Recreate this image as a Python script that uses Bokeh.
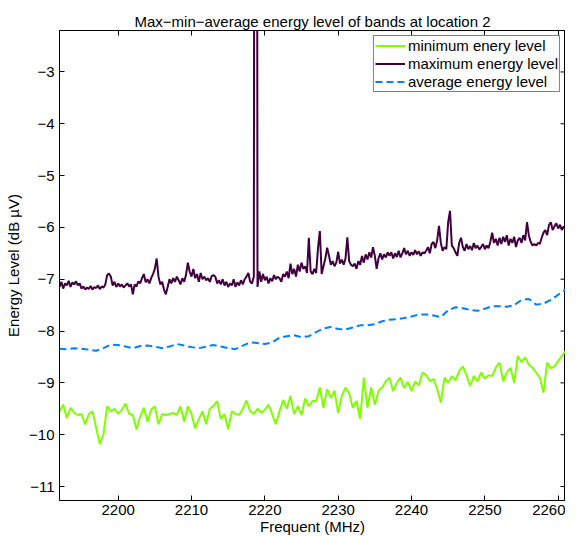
import numpy as np
from bokeh.plotting import figure
from bokeh.models import LinearAxis, FixedTicker, Legend, LegendItem, Range1d
from bokeh.embed import file_html
from bokeh.resources import INLINE

# ---- data ----
freq_start = 2192.0
freq_end = 2261.0

# maximum energy level, 0.25 MHz step
max_level = [
    -7.15, -7.05, -7.18, -7.08, -7.12, -7.03, -7.15, -7.06, -7.10, -7.04, -7.12, -7.08, -7.18, -7.14, -7.20, -7.16, -7.19, -7.13, -7.20, -7.15,
    -7.17, -7.12, -7.19, -7.14, -7.16, -7.10, -6.92, -6.89, -6.95, -7.12, -7.05, -7.15, -7.08, -7.14, -7.10, -7.16, -7.12, -7.08, -7.14, -7.10,
    -7.29, -7.10, -7.14, -7.04, -7.08, -6.98, -6.90, -7.06, -7.00, -7.08, -6.98, -6.90, -6.80, -6.60, -6.95, -7.10, -7.05, -7.20, -7.29, -7.15,
    -7.00, -7.08, -6.98, -7.05, -6.95, -7.02, -7.10, -6.98, -7.05, -6.92, -6.68, -6.85, -6.95, -6.80, -6.98, -6.90, -7.05, -6.88, -7.00, -6.95,
    -7.02, -6.98, -7.05, -6.94, -6.92, -6.95, -7.08, -7.02, -7.10, -7.00, -7.12, -7.05, -7.15, -7.08, -7.12, -7.00, -7.15, -7.06, -7.12, -7.02,
    -7.10, -7.00, -6.95, -6.88, -7.05, -7.08, -6.95, 30.00, -7.15, -6.85, -7.05, -6.90, -7.02, -6.95, -7.08, -6.98, -7.04, -6.92, -7.00, -6.95,
    -6.98, -7.05, -6.90, -6.95, -6.85, -6.98, -6.70, -6.90, -6.80, -6.95, -6.72, -6.85, -6.68, -6.80, -6.75, -6.88, -6.20, -6.85, -6.90, -6.80,
    -6.88, -6.40, -6.07, -6.90, -6.75, -6.60, -6.39, -6.55, -6.72, -6.65, -6.75, -6.68, -6.47, -6.70, -6.62, -6.72, -6.60, -6.19, -6.65, -6.72,
    -6.75, -6.70, -6.80, -6.65, -6.72, -6.55, -6.68, -6.52, -6.62, -6.48, -6.58, -6.38, -6.55, -6.80, -6.60, -6.50, -6.62, -6.52, -6.58, -6.48,
    -6.55, -6.48, -6.60, -6.50, -6.57, -6.45, -6.58, -6.50, -6.40, -6.52, -6.45, -6.55, -6.48, -6.53, -6.44, -6.52, -6.46, -6.55, -6.48, -6.50,
    -6.45, -6.38, -6.50, -6.32, -6.28, -6.40, -6.25, -5.97, -6.30, -6.45, -6.38, -6.42, -5.90, -5.68, -6.35, -6.40, -6.48, -6.55, -6.30, -6.20,
    -6.38, -6.45, -6.32, -6.42, -6.36, -6.44, -6.30, -6.40, -6.35, -6.43, -6.38, -6.32, -6.42, -6.35, -6.40, -6.28, -6.10, -6.30, -6.22, -6.35,
    -6.20, -6.32, -6.18, -6.28, -6.15, -6.35, -6.22, -6.30, -6.18, -6.38, -6.25, -6.20, -6.30, -6.15, -6.25, -5.90, -6.15, -6.28, -6.35, -6.32,
    -6.35, -6.30, -6.32, -6.20, -6.10, -6.05, -6.15, -5.95, -5.90, -6.05, -5.98, -5.92, -6.02, -5.95, -6.05, -5.98, -6.05,
]

# minimum energy level, 0.5 MHz step
min_level = [
    -9.55, -9.42, -9.68, -9.48, -9.58, -9.62, -9.60, -9.80, -9.60, -9.55,
    -9.87, -10.18, -9.99, -9.45, -9.55, -9.50, -9.60, -9.52, -9.40, -9.60,
    -9.62, -9.90, -9.65, -9.48, -9.75, -9.52, -9.45, -9.80, -9.60, -9.62,
    -9.60, -9.58, -9.62, -9.45, -9.75, -9.45, -9.60, -9.88, -9.70, -9.55,
    -9.80, -9.50, -9.45, -9.35, -9.70, -9.60, -9.90, -9.55, -9.60, -9.62,
    -9.50, -9.34, -9.55, -9.60, -9.50, -9.58, -9.52, -9.42, -9.60, -9.80,
    -9.55, -9.33, -9.50, -9.25, -9.60, -9.45, -9.62, -9.30, -9.45, -9.35,
    -9.35, -9.09, -9.48, -9.12, -9.29, -9.15, -9.58, -9.25, -9.09, -9.20,
    -9.48, -9.35, -9.70, -8.90, -9.48, -9.09, -9.42, -9.15, -9.09, -8.97,
    -8.90, -9.16, -9.00, -8.90, -9.10, -8.98, -9.16, -8.97, -9.05, -8.80,
    -8.85, -8.97, -8.92, -9.12, -9.38, -8.90, -9.00, -8.87, -8.95, -8.77,
    -8.68, -8.85, -9.06, -8.87, -8.97, -8.80, -8.92, -8.85, -8.87, -8.70,
    -8.61, -8.97, -8.80, -8.71, -9.00, -8.48, -8.60, -8.51, -8.65, -8.71,
    -8.80, -8.90, -9.19, -8.61, -8.72, -8.68, -8.58, -8.48, -8.39,
]

# average energy level, 1 MHz step
avg_level = [
    -8.34, -8.35, -8.33, -8.34, -8.36, -8.38, -8.33, -8.26, -8.27, -8.30,
    -8.33, -8.29, -8.28, -8.30, -8.33, -8.30, -8.25, -8.28, -8.31, -8.33,
    -8.30, -8.27, -8.30, -8.33, -8.35, -8.28, -8.22, -8.23, -8.25, -8.22,
    -8.13, -8.10, -8.08, -8.12, -8.10, -8.02, -7.95, -7.92, -7.96, -7.97,
    -7.93, -7.89, -7.89, -7.87, -7.81, -7.78, -7.77, -7.75, -7.72, -7.68,
    -7.68, -7.70, -7.73, -7.60, -7.54, -7.56, -7.59, -7.61, -7.57, -7.52,
    -7.52, -7.53, -7.50, -7.40, -7.38, -7.49, -7.47, -7.40, -7.30, -7.20,
]

x_ticks = [2200, 2210, 2220, 2230, 2240, 2250, 2260]
y_ticks = [-11, -10, -9, -8, -7, -6, -5, -4, -3]

freq_max = np.linspace(freq_start, freq_end, len(max_level))
freq_min = np.linspace(freq_start, freq_end, len(min_level))
freq_avg = np.linspace(freq_start, freq_end, len(avg_level))

FONT = "Liberation Sans"
FS = "15px"

Y_LO, Y_HI = -11.27, -2.2
X_LO, X_HI = 2192, 2261

p = figure(frame_width=506, frame_height=470, output_backend="svg", toolbar_location=None,
           x_range=Range1d(X_LO, X_HI), y_range=Range1d(Y_LO, Y_HI),
           min_border_left=59, min_border_right=0, min_border_top=30, min_border_bottom=0,
           title="Max\u2212min\u2212average energy level of bands at location 2")
p.title.align = "center"
p.title.vertical_align = "middle"
p.title.text_font = FONT
p.title.text_font_size = FS
p.title.text_font_style = "normal"
p.title.text_color = "black"
p.title.standoff = 0
p.title.offset = 0

p.background_fill_color = "white"
p.border_fill_color = "white"
p.outline_line_color = "black"
p.xgrid.visible = False
p.ygrid.visible = False

lmin = p.line(freq_min, min_level, line_color="#80ff00", line_width=2)
lmax = p.line(freq_max, max_level, line_color="#400040", line_width=2)
lavg = p.line(freq_avg, avg_level, line_color="#0080ff", line_width=2, line_dash="7 4")

def style_axis(ax, labels=True):
    ax.axis_line_color = "black"
    ax.major_tick_line_color = "black"
    ax.minor_tick_line_color = None
    ax.major_tick_in = 5
    ax.major_tick_out = 0
    ax.major_label_text_font = FONT
    ax.major_label_text_color = "black"
    ax.axis_label_text_font = FONT
    ax.axis_label_text_font_style = "normal"
    ax.axis_label_text_font_size = FS
    ax.axis_label_text_color = "black"
    if labels:
        ax.major_label_text_font_size = FS
    else:
        ax.major_label_text_font_size = "0px"
        ax.major_label_text_color = None
        ax.major_label_standoff = 0

ylab = {v: str(v).replace("-", "\u2212") for v in y_ticks}

p.xaxis.ticker = FixedTicker(ticks=x_ticks)
p.yaxis.ticker = FixedTicker(ticks=y_ticks)
p.yaxis.major_label_overrides = ylab
p.xaxis.axis_label = "Frequent (MHz)"
p.yaxis.axis_label = "Energy Level (dB \u00b5V)"
style_axis(p.xaxis[0])
style_axis(p.yaxis[0])
p.xaxis.major_label_standoff = 4
p.xaxis.axis_label_standoff = 0
p.yaxis.major_label_standoff = 5
p.yaxis.axis_label_standoff = 4

# top axis: inward ticks only
top_ax = LinearAxis(ticker=FixedTicker(ticks=x_ticks))
style_axis(top_ax, labels=False)
p.add_layout(top_ax, "above")

# right side inward ticks at the y tick values
p.ray(x=[X_HI] * len(y_ticks), y=y_ticks, length=5, length_units="screen",
      angle=np.pi, line_color="black", line_width=1)

legend = Legend(items=[
    LegendItem(label="minimum enery level", renderers=[lmin]),
    LegendItem(label="maximum energy level", renderers=[lmax]),
    LegendItem(label="average energy level", renderers=[lavg]),
], location="top_right")
legend.label_text_font = FONT
legend.label_text_font_size = FS
legend.label_text_color = "black"
legend.glyph_width = 30
legend.glyph_height = 17
legend.label_height = 17
legend.label_standoff = 3
legend.spacing = 1
legend.padding = 1
legend.margin = 5
legend.border_line_color = "black"
legend.border_line_width = 1
legend.background_fill_alpha = 1
p.add_layout(legend)

open("out.html", "w").write(file_html(p, INLINE))
